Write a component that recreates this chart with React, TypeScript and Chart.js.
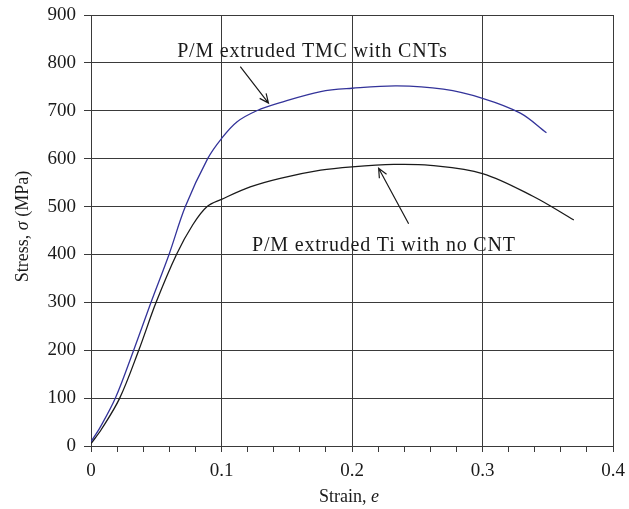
import React, { useEffect, useRef } from "react";
import { Chart, registerables } from "chart.js";

Chart.register(...registerables);

// Stress–strain curves
const cntStrain = [0, 0.0072, 0.0187, 0.0327, 0.046, 0.0598, 0.0723, 0.0894, 0.1, 0.112, 0.127, 0.145, 0.176, 0.2, 0.2345, 0.27, 0.3, 0.329, 0.349];
const cntStress = [9, 40, 100, 200, 300, 400, 500, 600, 642, 677, 700, 717, 740, 747, 752, 745, 726, 695, 654];

const tiStrain = [0, 0.008, 0.022, 0.0366, 0.0499, 0.0655, 0.078, 0.089, 0.1, 0.122, 0.145, 0.176, 0.2, 0.232, 0.26, 0.3, 0.339, 0.37];
const tiStress = [5, 35, 100, 200, 300, 400, 462, 500, 515, 541, 559, 576, 583, 588, 586, 569, 521, 472];

const xMajorTicks = [0, 0.1, 0.2, 0.3, 0.4];
const yTicks = [0, 100, 200, 300, 400, 500, 600, 700, 800, 900];

const cntLabel = "P/M extruded TMC with CNTs";
const tiLabel = "P/M extruded Ti with no CNT";
// annotation anchors in data coordinates [strain, stress]
const cntLabelPos = [0.066, 812];
const cntArrow = [[0.1144, 792], [0.136, 716]];
const tiLabelPos = [0.1234, 407];
const tiArrow = [[0.2434, 464], [0.2204, 580]];

const SERIF = '"Liberation Serif", "Times New Roman", serif';
const GRID = "#3a3a3a";

const isMajor = (v: number) => xMajorTicks.some((m) => Math.abs(m - v) < 1e-6);

export default function App() {
  const ref = useRef<HTMLCanvasElement | null>(null);
  useEffect(() => {
    document.body.style.margin = "0";
    const canvas = ref.current!;
    const drawArrow = (ctx: CanvasRenderingContext2D, x1: number, y1: number, x2: number, y2: number) => {
      ctx.beginPath();
      ctx.moveTo(x1, y1);
      ctx.lineTo(x2, y2);
      const a = Math.atan2(y2 - y1, x2 - x1);
      const L = 10, w = 0.42;
      ctx.moveTo(x2 - L * Math.cos(a - w), y2 - L * Math.sin(a - w));
      ctx.lineTo(x2, y2);
      ctx.lineTo(x2 - L * Math.cos(a + w), y2 - L * Math.sin(a + w));
      ctx.stroke();
    };
    const annot = {
      id: "annot",
      afterDraw(chart: any) {
        const ctx = chart.ctx as CanvasRenderingContext2D;
        const xs = chart.scales.x, ys = chart.scales.y;
        const px = (v: number) => xs.getPixelForValue(v);
        const py = (v: number) => ys.getPixelForValue(v);
        ctx.save();
        ctx.fillStyle = "#1a1a1a";
        ctx.strokeStyle = "#1a1a1a";
        ctx.lineWidth = 1.2;
        ctx.font = `20px ${SERIF}`;
        (ctx as any).letterSpacing = "0.8px";
        ctx.textBaseline = "alphabetic";
        ctx.textAlign = "left";
        ctx.fillText(cntLabel, px(cntLabelPos[0]), py(cntLabelPos[1]));
        ctx.fillText(tiLabel, px(tiLabelPos[0]), py(tiLabelPos[1]));
        (ctx as any).letterSpacing = "0px";
        drawArrow(ctx, px(cntArrow[0][0]), py(cntArrow[0][1]), px(cntArrow[1][0]), py(cntArrow[1][1]));
        drawArrow(ctx, px(tiArrow[0][0]), py(tiArrow[0][1]), px(tiArrow[1][0]), py(tiArrow[1][1]));

        // axis titles with italic symbols
        const drawMixed = (parts: [string, boolean][], cx: number, cy: number, rot: number) => {
          ctx.save();
          ctx.translate(cx, cy);
          ctx.rotate(rot);
          ctx.textBaseline = "middle";
          ctx.textAlign = "left";
          let total = 0;
          for (const [t, it] of parts) {
            ctx.font = `${it ? "italic " : ""}18px ${SERIF}`;
            total += ctx.measureText(t).width;
          }
          let x = -total / 2;
          for (const [t, it] of parts) {
            ctx.font = `${it ? "italic " : ""}18px ${SERIF}`;
            ctx.fillText(t, x, 0);
            x += ctx.measureText(t).width;
          }
          ctx.restore();
        };
        const ca = chart.chartArea;
        drawMixed([["Stress, ", false], ["σ", true], [" (MPa)", false]], 23, (ca.top + ca.bottom) / 2 - 4, -Math.PI / 2);
        drawMixed([["Strain, ", false], ["e", true]], (ca.left + ca.right) / 2 - 3, 497, 0);
        ctx.restore();
      },
    };
    const chart = new Chart(canvas, {
      type: "line",
      data: {
        datasets: [
          {
            label: cntLabel,
            data: cntStrain.map((x, i) => ({ x, y: cntStress[i] })),
            borderColor: "#33339a",
            borderWidth: 1.3,
            pointRadius: 0,
            tension: 0.35,
            fill: false,
          },
          {
            label: tiLabel,
            data: tiStrain.map((x, i) => ({ x, y: tiStress[i] })),
            borderColor: "#1a1a1a",
            borderWidth: 1.3,
            pointRadius: 0,
            tension: 0.35,
            fill: false,
          },
        ],
      },
      options: {
        responsive: false,
        animation: false,
        layout: { padding: { top: 15, right: 16, left: 0, bottom: 0 } },
        plugins: { legend: { display: false }, tooltip: { enabled: false } },
        scales: {
          x: {
            type: "linear",
            min: 0,
            max: 0.4,
            afterFit: (s: any) => { s.height = 63; s.paddingLeft = 0; s.paddingRight = 0; },
            ticks: {
              stepSize: 0.02,
              maxTicksLimit: 100,
              autoSkip: false,
              maxRotation: 0,
              padding: 8,
              color: "#1a1a1a",
              font: { family: SERIF, size: 19 },
              callback: (v: any) => {
                const n = Number(v);
                if (!isMajor(n)) return "";
                return n === 0 ? "0" : n.toFixed(1);
              },
            },
            grid: {
              color: (c: any) => (c.tick && isMajor(c.tick.value) ? GRID : "rgba(0,0,0,0)"),
              tickColor: GRID,
              tickLength: 6,
              lineWidth: 1,
            },
            border: { color: GRID, width: 1 },
          },
          y: {
            type: "linear",
            min: yTicks[0],
            max: yTicks[yTicks.length - 1],
            afterFit: (s: any) => { s.width = 91; s.paddingTop = 0; s.paddingBottom = 0; },
            ticks: {
              stepSize: 100,
              padding: 8,
              color: "#1a1a1a",
              font: { family: SERIF, size: 19 },
              callback: (v: any) => String(v),
            },
            grid: { color: GRID, tickColor: GRID, tickLength: 7, lineWidth: 1 },
            border: { color: GRID, width: 1 },
          },
        },
      },
      plugins: [annot],
    } as any);
    return () => chart.destroy();
  }, []);
  return <canvas ref={ref} width={629} height={509} style={{ display: "block" }} />;
}
